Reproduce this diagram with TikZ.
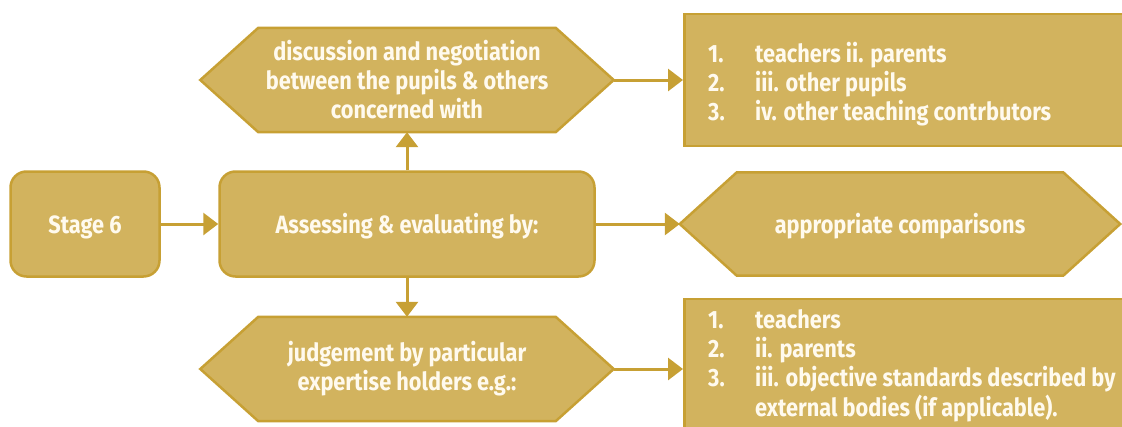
\documentclass[tikz,border=0pt]{standalone}
\usepackage{fontspec}
\setmainfont{Fira Sans}[FakeStretch=0.87]
\usetikzlibrary{arrows.meta, positioning, calc, backgrounds}
\definecolor{GoldFill}{RGB}{210,179,94}
\definecolor{GoldEdge}{RGB}{199,160,52}
\definecolor{CreamText}{RGB}{255,250,238}

% hexagon outline round a (plain) node: name, indent
\newcommand{\hexoutline}[2]{%
  \draw[hexline] (#1.west) -- ($(#1.north west)+(#2,0)$) -- ($(#1.north east)+(-#2,0)$)
    -- (#1.east) -- ($(#1.south east)+(-#2,0)$) -- ($(#1.south west)+(#2,0)$) -- cycle;}

\tikzset{
  gtext/.style={text=CreamText, font=\fontsize{25}{29}\selectfont\bfseries},
  oneline/.style={text height=20pt, text depth=2pt},
  roundbox/.style={gtext, oneline, draw=GoldEdge, fill=GoldFill, line width=2.5pt, rounded corners=16pt, align=center, inner sep=0pt},
  hexnode/.style={gtext, align=center, inner sep=0pt, minimum width=413pt, minimum height=104pt},
  hexline/.style={draw=GoldEdge, fill=GoldFill, line width=2.5pt, line join=miter},
  listbox/.style={draw=GoldEdge, fill=GoldFill, line width=2.5pt, inner sep=0pt, anchor=west},
  listtext/.style={gtext, align=left, inner sep=0pt, anchor=west},
  flow/.style={draw=GoldEdge, line width=3pt, -{Triangle[length=15pt,width=22pt]}}
}

\begin{document}
\begin{tikzpicture}[x=1pt, y=-1pt]
  \clip (0,0) rectangle (1122,426);

  % main row
  \node[roundbox, minimum width=149pt, minimum height=105pt] (stage) at (85,224) {Stage 6};
  \node[roundbox, minimum width=375pt, minimum height=105pt] (assess) at (407,224) {Assessing \& evaluating by:};

  % hexagons
  \node[hexnode] (discuss) at (407,80) {discussion and negotiation\\between the pupils \& others\\concerned with};
  \node[hexnode, oneline, minimum width=440pt, minimum height=103pt] (compare) at (900,224) {appropriate comparisons};
  \node[hexnode] (judge) at (407,369) {judgement by particular\\expertise holders e.g.:};
  \begin{scope}[on background layer]
    \hexoutline{discuss}{58}
    \hexoutline{compare}{57}
    \hexoutline{judge}{58}
  \end{scope}

  % lists
  \node[listbox, minimum width=470pt, minimum height=132pt] (peerbox) at (683,80) {};
  \node[listtext, right=25pt of peerbox.west, yshift=-6pt] (peerlist) {%
    \begin{tabular}{@{}p{47pt}@{}l@{}}
      1. & teachers ii. parents\\
      2. & iii. other pupils\\
      3. & iv. other teaching contrbutors
    \end{tabular}};
  \node[listbox, minimum width=470pt, minimum height=140pt] (expertbox) at (683,369) {};
  \node[listtext, right=25pt of expertbox.west, yshift=2pt] (expertlist) {%
    \begin{tabular}{@{}p{47pt}@{}l@{}}
      1. & teachers\\
      2. & ii. parents\\
      3. & iii. objective standards described by\\
         & external bodies (if applicable).
    \end{tabular}};

  % connectors
  \draw[flow] (stage) -- (assess);
  \draw[flow] (assess) -- (discuss);
  \draw[flow] (assess) -- (judge);
  \draw[flow] (assess) -- (compare);
  \draw[flow] (discuss) -- (peerbox);
  \draw[flow] (judge) -- (expertbox);
\end{tikzpicture}
\end{document}
